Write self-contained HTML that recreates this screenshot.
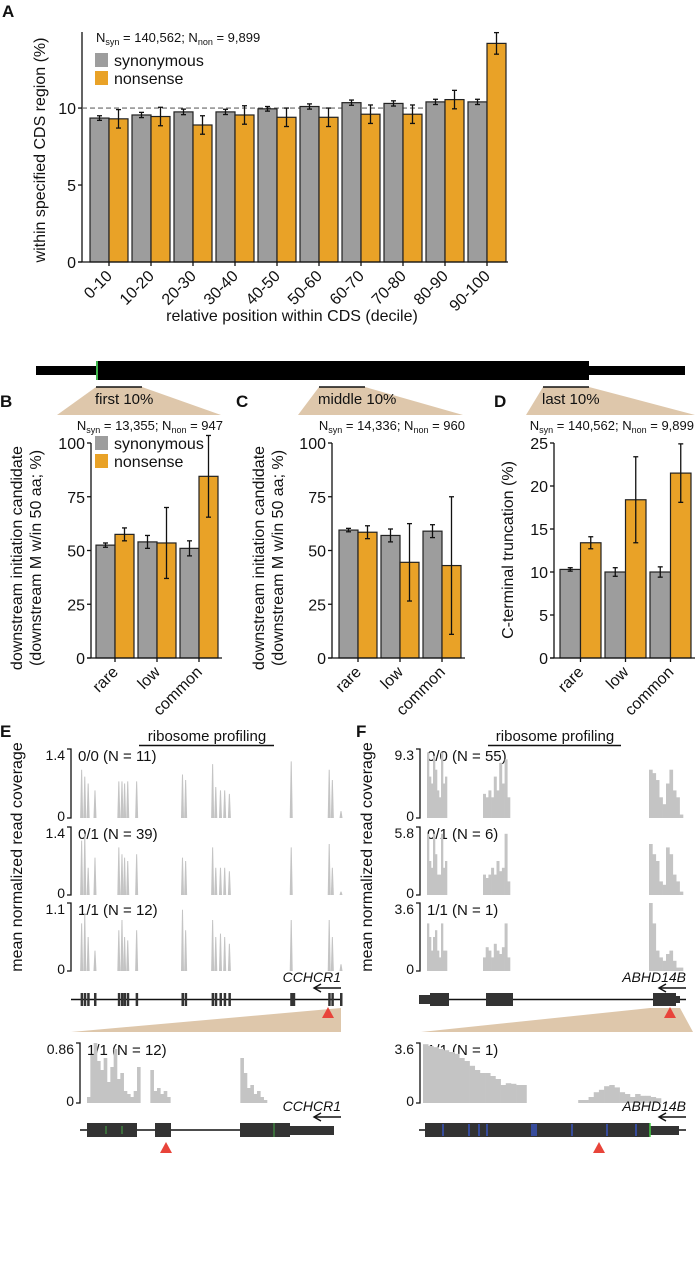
<!DOCTYPE html>
<html><head><meta charset="utf-8"><style>
body{margin:0;background:#fff}
svg{display:block;font-family:"Liberation Sans",sans-serif}
</style></head><body>
<svg id="fig" width="695" height="1280" viewBox="0 0 695 1280" xmlns="http://www.w3.org/2000/svg"></svg>
<script>
// ---------- data ----------
const deciles=["0-10","10-20","20-30","30-40","40-50","50-60","60-70","70-80","80-90","90-100"];
const aSyn=[9.35,9.55,9.75,9.75,9.95,10.1,10.35,10.3,10.4,10.4];
const aSynErr=[0.15,0.17,0.18,0.17,0.15,0.17,0.17,0.17,0.17,0.17];
const aNon=[9.3,9.45,8.9,9.55,9.4,9.4,9.6,9.6,10.55,14.2];
const aNonErr=[0.6,0.6,0.6,0.6,0.6,0.6,0.6,0.6,0.6,0.7];
const aTicks=[0,5,10];
const freqCats=["rare","low","common"];
const bSyn=[52.5,54,51]; const bSynErr=[1,3,3.5];
const bNon=[57.5,53.5,84.5]; const bNonErr=[3,16.5,19];
const cSyn=[59.5,57,59]; const cSynErr=[0.8,3,3];
const cNon=[58.5,44.5,43]; const cNonErr=[3,18,32];
const dSyn=[10.3,10,10]; const dSynErr=[0.2,0.5,0.6];
const dNon=[13.4,18.4,21.5]; const dNonErr=[0.7,5,3.4];
const bcTicks=[0,25,50,75,100];
const dTicks=[0,5,10,15,20,25];
const eExons=[1,2.2,3.5,6.1,15.2,16.4,17.4,18.6,22,39.5,40.7,51,52.2,54,55.6,57.4,81,95.5,96.7,100];
const eTrack1=[0.7,0.6,0.5,0.4,0.53,0.53,0.5,0.53,0.53,0.63,0.55,0.78,0.45,0.4,0.4,0.35,0.82,0.7,0.55,0.1];
const eTrack2=[0.8,0.9,0.4,0.55,0.7,0.6,0.55,0.5,0.6,0.55,0.5,0.7,0.4,0.4,0.4,0.35,0.7,0.75,0.4,0.05];
const eTrack3=[0.7,0.85,0.5,0.3,0.6,0.75,0.5,0.45,0.6,0.9,0.6,0.75,0.5,0.55,0.5,0.4,0.75,0.75,0.5,0.1];
const eLabels=["0/0 (N = 11)","0/1 (N = 39)","1/1 (N = 12)"];
const eMax=["1.4","1.4","1.1"];
const fRegions=[[427,447],[483,510],[649,683]];
const fTrack1=[[0.95,0.6,0.5,0.9,0.7,0.4,0.3,0.95,0.5,0.6],[0.35,0.3,0.4,0.3,0.6,0.4,0.8,0.5,0.85,0.3],[0.7,0.65,0.55,0.3,0.2,0.5,0.7,0.4,0.3,0.05]];
const fTrack2=[[0.9,0.5,0.4,0.9,0.6,0.3,0.3,0.9,0.4,0.5],[0.3,0.25,0.3,0.4,0.3,0.5,0.35,0.4,0.9,0.2],[0.75,0.6,0.5,0.2,0.15,0.7,0.6,0.3,0.2,0.05]];
const fTrack3=[[0.7,0.5,0.3,0.5,0.6,0.3,0.2,0.7,0.3,0.3],[0.2,0.35,0.3,0.2,0.4,0.3,0.25,0.35,0.7,0.2],[1,0.7,0.3,0.2,0.15,0.25,0.3,0.15,0.05,0.05]];
const fLabels=["0/0 (N = 55)","0/1 (N = 6)","1/1 (N = 1)"];
const fMax=["9.3","5.8","3.6"];
const eZoom=[0.1,0.8,1.0,0.7,0.55,0.75,0.35,0.6,0.9,0.4,0.5,0.2,0.15,0.1,0.2,0.6,0,0,0,0.55,0.2,0.25,0.15,0.2,0.1,0,0,0,0,0,0,0,0,0,0,0,0,0,0,0,0,0,0,0,0,0,0.75,0.5,0.25,0.3,0.15,0.2,0.1,0.05];
const fZoom=[0.98,0.95,0.93,0.9,0.88,0.85,0.82,0.75,0.7,0.62,0.55,0.5,0.5,0.45,0.4,0.3,0.33,0.32,0.3,0.3,0,0,0,0,0,0,0,0,0,0,0.05,0.05,0.1,0.18,0.22,0.28,0.3,0.26,0.18,0.15,0.1,0.15,0.12,0.12,0.1,0.08];

// ---------- helpers ----------
const S=document.getElementById('fig');const NS="http://www.w3.org/2000/svg";
function el(t,a,txt){const e=document.createElementNS(NS,t);for(const k in a)e.setAttribute(k,a[k]);if(txt!==undefined)e.textContent=txt;S.appendChild(e);return e;}
const GRAY="#9d9d9d",ORG="#e9a227",TAN="#dec7ab",COV="#c4c4c4";
function txt(x,y,s,size,opt){opt=opt||{};const e=el('text',{x:x,y:y,'font-size':size,'text-anchor':opt.anchor||'start',fill:'#111'});e.textContent=s;if(opt.bold)e.setAttribute('font-weight','bold');if(opt.italic)e.setAttribute('font-style','italic');if(opt.rot)e.setAttribute('transform',`rotate(${opt.rot} ${x} ${y})`);return e;}
function line(x1,y1,x2,y2,w,c,name,dash){const e=el('line',{x1,y1,x2,y2,stroke:c||'#111','stroke-width':w||1.3});if(dash)e.setAttribute('stroke-dasharray',dash);return e;}
function nText(x,y,a,b,anchor){const e=el('text',{x:x,y:y,'font-size':13,'text-anchor':anchor||'start',fill:'#111'});e.innerHTML=`N<tspan font-size="9" dy="3">syn</tspan><tspan dy="-3"> = ${a}; N</tspan><tspan font-size="9" dy="3">non</tspan><tspan dy="-3"> = ${b}</tspan>`;}
function legend(x,y){const r1=el('rect',{x:x,y:y,width:13,height:14,fill:GRAY});
txt(x+19,y+13,'synonymous',16,{name:'legend-entry-synonymous'});
const r2=el('rect',{x:x,y:y+18,width:13,height:14,fill:ORG});
txt(x+19,y+31,'nonsense',16,{name:'legend-entry-nonsense'});}
function errBar(x,y1,y2){line(x,y1,x,y2,1.3,'#111','error-bar');line(x-2.5,y1,x+2.5,y1,1.3,'#111','error-cap');line(x-2.5,y2,x+2.5,y2,1.3,'#111','error-cap');}
function bars(cfg){
 const ys=v=>cfg.y0-(v/cfg.max)*(cfg.y0-cfg.yTop);
 line(cfg.axisX,cfg.yTop,cfg.axisX,cfg.y0,1.3,'#111','y-axis');
 cfg.ticks.forEach(t=>{line(cfg.axisX-4,ys(t),cfg.axisX,ys(t),1.3,'#111','y-tick');txt(cfg.axisX-6,ys(t)+6,String(t),16,{anchor:'end',name:'y-tick-label'});});
 if(cfg.dash!==undefined)line(cfg.axisX,ys(cfg.dash),cfg.dashEnd,ys(cfg.dash),1.1,'#666','reference-line-10pct','5,3');
 cfg.cats.forEach((c,i)=>{const gx=cfg.x0+i*cfg.pitch;
  const r=el('rect',{x:gx,y:ys(cfg.syn[i]),width:cfg.bw,height:cfg.y0-ys(cfg.syn[i]),fill:GRAY,stroke:'#222','stroke-width':1.2});
  
  const o=el('rect',{x:gx+cfg.bw,y:ys(cfg.non[i]),width:cfg.bw,height:cfg.y0-ys(cfg.non[i]),fill:ORG,stroke:'#222','stroke-width':1.2});
  
  errBar(gx+cfg.bw/2,ys(cfg.syn[i]-cfg.synE[i]),ys(cfg.syn[i]+cfg.synE[i]));
  errBar(gx+cfg.bw*1.5,ys(cfg.non[i]-cfg.nonE[i]),ys(cfg.non[i]+cfg.nonE[i]));
  const tx=gx+cfg.bw;line(tx,cfg.y0,tx,cfg.y0+4,1.3,'#111','x-tick');
  txt(tx+4,cfg.y0+15,c,16,{anchor:'end',rot:-45,name:'x-tick-label-'+c});
 });
 line(cfg.axisX-4,cfg.y0,cfg.xEnd,cfg.y0,1.3,'#111','x-axis');
}

// ---------- Panel A ----------
txt(2,17,'A',17,{bold:true,name:'panel-label-a'});
bars({axisX:82,x0:90,y0:262,yTop:32,max:14.94,pitch:42,bw:19,cats:deciles,syn:aSyn,synE:aSynErr,non:aNon,nonE:aNonErr,ticks:aTicks,dash:10,dashEnd:463,xEnd:508});
nText(96,42,'140,562','9,899');
legend(95,53);
txt(45,150,'within specified CDS region (%)',16,{anchor:'middle',rot:-90,name:'y-axis-title-a'});
txt(292,321,'relative position within CDS (decile)',16,{anchor:'middle',name:'x-axis-title-a'});

// ---------- Gene schematic ----------
line(36,370.5,685,370.5,9,'#000','transcript-utr');
const cds=el('rect',{x:96,y:361,width:493,height:19,fill:'#000'});
line(97,361,97,380,2,'#3cb54a','start-codon-mark');
[[96,142,57,221,'first 10%'],[319,365,298,463,'middle 10%'],[543,589,526,695,'last 10%']].forEach(s=>{
 const p=el('polygon',{points:`${s[0]},387 ${s[1]},387 ${s[3]},415 ${s[2]},415`,fill:TAN});
 line(s[0],387,s[1],387,1.5,'#111','region-bar');
 txt(s[0]-1,404,s[4],15,{name:'region-label'});
});
txt(0,407,'B',17,{bold:true,name:'panel-label-b'});
txt(236,407,'C',17,{bold:true,name:'panel-label-c'});
txt(494,407,'D',17,{bold:true,name:'panel-label-d'});

// ---------- Panels B C D ----------
bars({axisX:91,x0:96,y0:658,yTop:443,max:100,pitch:42,bw:19,cats:freqCats,syn:bSyn,synE:bSynErr,non:bNon,nonE:bNonErr,ticks:bcTicks,xEnd:222});
nText(223,430,'13,355','947','end');
legend(95,436);
txt(22,558,'downstream initiation candidate',16,{anchor:'middle',rot:-90,name:'y-axis-title-b'});
txt(41,558,'(downstream M w/in 50 aa; %)',16,{anchor:'middle',rot:-90,name:'y-axis-title-b-2'});
bars({axisX:332,x0:339,y0:658,yTop:443,max:100,pitch:42,bw:19,cats:freqCats,syn:cSyn,synE:cSynErr,non:cNon,nonE:cNonErr,ticks:bcTicks,xEnd:465});
nText(465,430,'14,336','960','end');
txt(264,558,'downstream initiation candidate',16,{anchor:'middle',rot:-90,name:'y-axis-title-c'});
txt(283,558,'(downstream M w/in 50 aa; %)',16,{anchor:'middle',rot:-90,name:'y-axis-title-c-2'});
bars({axisX:554,x0:560,y0:658,yTop:443,max:25,pitch:45,bw:20.5,cats:freqCats,syn:dSyn,synE:dSynErr,non:dNon,nonE:dNonErr,ticks:dTicks,xEnd:695});
nText(694,430,'140,562','9,899','end');
txt(513,550,'C-terminal truncation (%)',16,{anchor:'middle',rot:-90,name:'y-axis-title-d'});

// ---------- Panels E F ----------
txt(0,737,'E',17,{bold:true,name:'panel-label-e'});
txt(356,737,'F',17,{bold:true,name:'panel-label-f'});
txt(207,741,'ribosome profiling',15,{anchor:'middle',name:'ribosome-profiling-title-e'});line(139,745.5,274,745.5,1.4,'#111','title-underline');
txt(555,741,'ribosome profiling',15,{anchor:'middle',name:'ribosome-profiling-title-f'});line(488,745.5,621,745.5,1.4,'#111','title-underline');
const trackY=[[749,818],[827,895],[903,971]];
function bracket(x,t,b,maxLbl,lbl,name){
 const p=el('path',{d:`M${x-4},${t} H${x} V${b} H${x-4}`,fill:'none',stroke:'#111','stroke-width':1.3});
 txt(x-6,t+11,maxLbl,14,{anchor:'end',name:'y-max-label'});txt(x-6,b+3,'0',14,{anchor:'end',name:'y-zero-label'});
 txt(x+7,t+12,lbl,15,{name:name+'-title'});
}
const ex=v=>79+v*2.62;
const fx=v=>v;
[eTrack1,eTrack2,eTrack3].forEach((tr,k)=>{const [t,b]=trackY[k];bracket(71,t,b,eMax[k],eLabels[k],'track-e-'+k);
 tr.forEach((h,i)=>{const x=ex(eExons[i]);const top=b-h*(b-t);
  const p=el('polygon',{points:`${x-1.5},${b} ${x-0.5},${top} ${x+0.5},${top} ${x+1.5},${b}`,fill:COV});});});
[fTrack1,fTrack2,fTrack3].forEach((tr,k)=>{const [t,b]=trackY[k];bracket(420,t,b,fMax[k],fLabels[k],'track-f-'+k);
 fRegions.forEach((r,j)=>{const vals=tr[j];const w=(fx(r[1])-fx(r[0]))/vals.length;
  vals.forEach((h,i)=>{const x=fx(r[0])+i*w;const re=el('rect',{x:x,y:b-h*(b-t),width:w+0.3,height:h*(b-t),fill:COV});});});});
txt(22,857,'mean normalized read coverage',16,{anchor:'middle',rot:-90,name:'y-axis-title-e'});
txt(372,857,'mean normalized read coverage',16,{anchor:'middle',rot:-90,name:'y-axis-title-f'});

function geneLabel(xr,y,name){txt(xr,y,name,14,{anchor:'end',italic:true,name:'gene-name'});
 line(xr-26,y+6,xr,y+6,1.4,'#111','strand-arrow');const a=el('path',{d:`M${xr-20},${y+2} L${xr-27},${y+6} L${xr-20},${y+10}`,fill:'none',stroke:'#111','stroke-width':1.4});}
function redTri(x,y){const p=el('polygon',{points:`${x},${y} ${x-6},${y+11} ${x+6},${y+11}`,fill:'#e8443a'});}
function box(x,y,w,h,name){const r=el('rect',{x,y,width:w,height:h,fill:'#333'});}
// E gene
geneLabel(341,982,'CCHCR1');line(71,999.5,341,999.5,1.5,'#111','intron-line');
eExons.forEach(v=>box(ex(v)-1,993,v===81?5:2.5,13,'exon'));
const wE=el('polygon',{points:'71,1032 341,1008 341,1032',fill:TAN});
redTri(328,1007);
// F gene
geneLabel(686,982,'ABHD14B');line(419,999.5,686,999.5,1.5,'#111','intron-line');
box(419,995,12,9,'utr');box(430,993,19,13,'exon');box(486,993,27,13,'exon');box(653,993,23,13,'exon');box(675,996,5,7,'utr');
const wF=el('polygon',{points:'421,1032 650,1008 680,1008 693,1032',fill:TAN});
redTri(670,1007);
// zoomed tracks
bracket(80,1043,1103,'0.86','1/1 (N = 12)','zoom-track-e');
eZoom.forEach((h,i)=>{const w=(267-87)/eZoom.length;const re=el('rect',{x:87+i*w,y:1103-h*60,width:w+0.3,height:h*60,fill:COV});});
bracket(420,1043,1103,'3.6','1/1 (N = 1)','zoom-track-f');
fZoom.forEach((h,i)=>{const w=(661-423)/fZoom.length;const re=el('rect',{x:423+i*w,y:1103-h*60,width:w+0.3,height:h*60,fill:COV});});
geneLabel(341,1111,'CCHCR1');line(80,1130,334,1130,1.5,'#111','intron-line');
box(87,1123,50,14,'exon');box(155,1123,16,14,'exon');box(240,1123,50,14,'exon');box(290,1126,44,9,'utr');
line(106,1126,106,1134,1,'#4a4','codon-mark');line(122,1126,122,1134,1,'#4a4','codon-mark');line(274,1123,274,1137,1,'#4a4','codon-mark');
redTri(166,1142);
geneLabel(686,1111,'ABHD14B');line(419,1130,686,1130,1.5,'#111','intron-line');
box(425,1123,225,14,'exon');box(650,1126,29,9,'utr');line(650,1123,650,1137,1.5,'#4c4','stop-mark');
[443,469,479,487,532,534,536,572,607,636].forEach(v=>line(v,1124,v,1136,1.3,'#3a5bd6','splice-mark'));
redTri(599,1142);
</script>
</body></html>
